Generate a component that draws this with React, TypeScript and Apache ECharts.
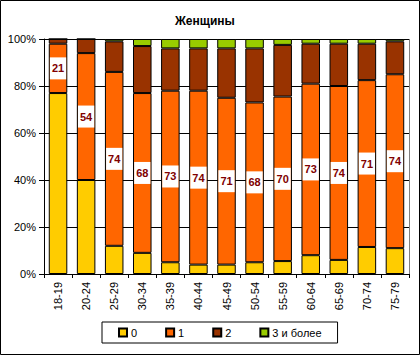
import React, { useEffect, useRef } from "react";
import * as echarts from "echarts";

const categories = ["18-19", "20-24", "25-29", "30-34", "35-39", "40-44", "45-49", "50-54", "55-59", "60-64", "65-69", "70-74", "75-79"];
const seriesNames = ["0", "1", "2", "3 и более"];
const s0 = [77, 40, 12, 9, 5, 4, 4, 5, 5.5, 8, 6, 11.5, 11];
const s1 = [21, 54, 74, 68, 73, 74, 71, 68, 70, 73, 74, 71, 74];
const s2 = [2, 6, 13, 20, 18, 18, 21, 23, 22, 17, 18, 15.5, 14];
const s3 = [0, 0, 1, 3, 4, 4, 4, 4, 2.5, 2, 2, 2, 1];
const colors = ["#FFCC00", "#FF6600", "#993300", "#99CC00"];

export default function App() {
  const ref = useRef<HTMLDivElement>(null);
  useEffect(() => {
    document.body.style.margin = "0";
    const chart = echarts.init(ref.current!, null, { renderer: "svg" });
    const font = "Liberation Sans, Arial, sans-serif";
    const data = [s0, s1, s2, s3];
    chart.setOption({
      animation: false,
      backgroundColor: "#fff",
      textStyle: { fontFamily: font },
      title: {
        text: "Женщины",
        left: 170,
        top: 10,
        textStyle: { fontFamily: font, fontSize: 12, fontWeight: "bold", color: "#000" },
      },
      graphic: [
        {
          type: "rect",
          shape: { x: 0.5, y: 0.5, width: 419, height: 354 },
          style: { fill: "none", stroke: "#000", lineWidth: 1 },
          silent: true,
          z: 100,
        },
        {
          type: "line",
          shape: { x1: 409.5, y1: 39, x2: 409.5, y2: 274 },
          style: { stroke: "#808080", lineWidth: 1 },
          silent: true,
          z: 0,
        },
      ],
      legend: {
        left: 102,
        top: 322,
        orient: "horizontal",
        itemWidth: 8,
        itemHeight: 8,
        itemGap: 28,
        padding: [5, 16, 5, 16],
        borderColor: "#000",
        borderWidth: 1,
        icon: "rect",
        textStyle: { fontFamily: font, fontSize: 11, color: "#000", padding: [0, 0, 0, -1] },
        data: seriesNames,
      },
      grid: { left: 44, right: 11, top: 39, bottom: 81, containLabel: false },
      xAxis: {
        type: "category",
        data: categories,
        axisLine: { lineStyle: { color: "#000" } },
        axisTick: { show: true, length: 4, lineStyle: { color: "#000" } },
        axisLabel: { rotate: 90, fontFamily: font, fontSize: 11, color: "#000", margin: 8 },
      },
      yAxis: {
        type: "value",
        min: 0,
        max: 100,
        interval: 20,
        axisLine: { show: true, lineStyle: { color: "#000" } },
        axisTick: { show: true, length: 5, lineStyle: { color: "#000" } },
        axisLabel: { formatter: "{value}%", fontFamily: font, fontSize: 11, color: "#000", margin: 8 },
        splitLine: { lineStyle: { color: "#000" } },
      },
      series: data.map((d, i) => ({
        name: seriesNames[i],
        type: "bar",
        stack: "total",
        data: d,
        barCategoryGap: "34%",
        itemStyle: { color: colors[i], borderColor: "#000", borderWidth: 1 },
        label:
          i === 1
            ? {
                show: true,
                position: "inside",
                fontFamily: font,
                fontSize: 11,
                fontWeight: "bold",
                color: "#800000",
                backgroundColor: "#fff",
                padding: [6, 2, 5, 2],
              }
            : { show: false },
      })),
    });
    return () => chart.dispose();
  }, []);
  return <div ref={ref} style={{ position: "absolute", left: 0, top: 0, width: 420, height: 355 }} />;
}
